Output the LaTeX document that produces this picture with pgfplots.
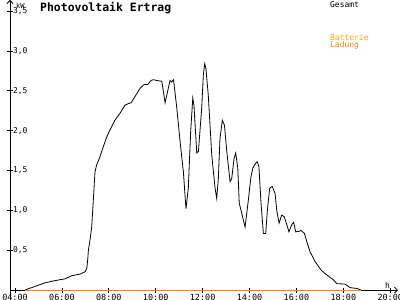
\documentclass[border=0pt]{standalone}
\usepackage{fontspec}
\setmainfont{DejaVu Sans Mono}
\usepackage{pgfplots}
\pgfplotsset{compat=1.18}
\usetikzlibrary{arrows.meta}
\definecolor{lorange}{HTML}{FF8000}
\definecolor{byellow}{HTML}{FFA500}
\begin{document}
\begin{tikzpicture}[x=1bp,y=1bp]
\begin{axis}[
  at={(10bp,0bp)}, anchor=south west,
  scale only axis, width=388bp, height=300bp,
  xmin=3.787, xmax=20.33, ymin=-0.125, ymax=3.64,
  axis x line=middle, axis y line=left,
  axis line style={line width=0.8bp, -{Straight Barb[length=3bp,width=6bp]}},
  xtick={4,6,...,20},
  xticklabels={04:00,06:00,08:00,10:00,12:00,14:00,16:00,18:00,20:00},
  ytick={0.5,1,1.5,2,2.5,3,3.5},
  yticklabels={{0,5},{1,0},{1,5},{2,0},{2,5},{3,0},{3,5}},
  tick align=center, major tick length=5bp,
  tick style={black, line width=0.8bp},
  xticklabel style={font=\fontsize{8.5}{9}\selectfont, anchor=north, yshift=1.5bp},
  yticklabel style={font=\fontsize{8}{9}\selectfont, anchor=west, xshift=2bp},
  clip=false,
]
\addplot[black, line width=0.8bp, mark=none] coordinates {
(4.43,0) (4.60,0.02) (4.71,0.03) (4.99,0.06) (5.28,0.09) (5.57,0.11) (5.92,0.13)
(6.13,0.14) (6.42,0.18) (6.77,0.20) (6.99,0.23) (7.06,0.27) (7.10,0.38) (7.13,0.50)
(7.20,0.63) (7.27,0.79) (7.34,1.13) (7.41,1.48) (7.48,1.57) (7.62,1.67) (7.72,1.76)
(7.91,1.92) (8.05,2.01) (8.26,2.13) (8.48,2.22) (8.69,2.32) (8.83,2.34) (8.95,2.35)
(9.12,2.43) (9.33,2.53) (9.51,2.58) (9.66,2.58) (9.80,2.63) (9.90,2.64) (10.04,2.63)
(10.26,2.62) (10.40,2.35) (10.61,2.63) (10.68,2.61) (10.75,2.64) (10.78,2.59)
(10.90,2.28) (11.04,1.86) (11.18,1.48) (11.29,1.02) (11.39,1.28) (11.49,1.99)
(11.58,2.41) (11.63,2.32) (11.75,1.72) (11.82,1.74) (11.96,2.28) (12.03,2.70)
(12.09,2.84) (12.14,2.78) (12.24,2.45) (12.39,1.69) (12.53,1.28) (12.60,1.15)
(12.67,1.40) (12.74,1.90) (12.84,2.13) (12.93,2.07) (13.03,1.74) (13.17,1.36)
(13.24,1.40) (13.34,1.65) (13.41,1.72) (13.50,1.53) (13.56,1.09) (13.67,0.96)
(13.81,0.79) (13.95,1.13) (14.06,1.42) (14.14,1.53) (14.26,1.59) (14.33,1.61)
(14.40,1.55) (14.49,1.09) (14.59,0.71) (14.69,0.71) (14.76,1.00) (14.86,1.28)
(14.97,1.30) (15.09,1.21) (15.16,1.00) (15.26,0.84) (15.37,0.94) (15.48,0.92)
(15.59,0.82) (15.68,0.73) (15.80,0.82) (15.88,0.85) (15.97,0.73) (16.15,0.74)
(16.19,0.75) (16.34,0.71) (16.44,0.61) (16.58,0.48) (16.79,0.36) (17.05,0.25)
(17.29,0.19) (17.57,0.13) (17.72,0.08) (18.07,0.075) (18.29,0.03) (18.57,0.02)
(18.75,0)
};
\addplot[lorange, line width=1bp, mark=none] coordinates {(4.43,0) (18.75,0)};
\end{axis}
\node[anchor=base west, inner sep=0, font=\bfseries\fontsize{11.5}{12}\selectfont] at (40,289) {Photovoltaik Ertrag};
\node[anchor=base west, inner sep=0, font=\fontsize{7}{7}\selectfont] at (16,292) {kW};
\node[anchor=base west, inner sep=0, font=\fontsize{8}{8}\selectfont] at (330,293) {Gesamt};
\node[anchor=base west, inner sep=0, text=byellow, font=\fontsize{8}{8}\selectfont] at (330,260) {Batterie};
\node[anchor=base west, inner sep=0, text=lorange, font=\fontsize{8}{8}\selectfont] at (330,253) {Ladung};
\node[anchor=base west, inner sep=0, font=\fontsize{8}{8}\selectfont] at (385,12) {h};
\pgfresetboundingbox
\path (0,0) rectangle (400,300);
\end{tikzpicture}
\end{document}
